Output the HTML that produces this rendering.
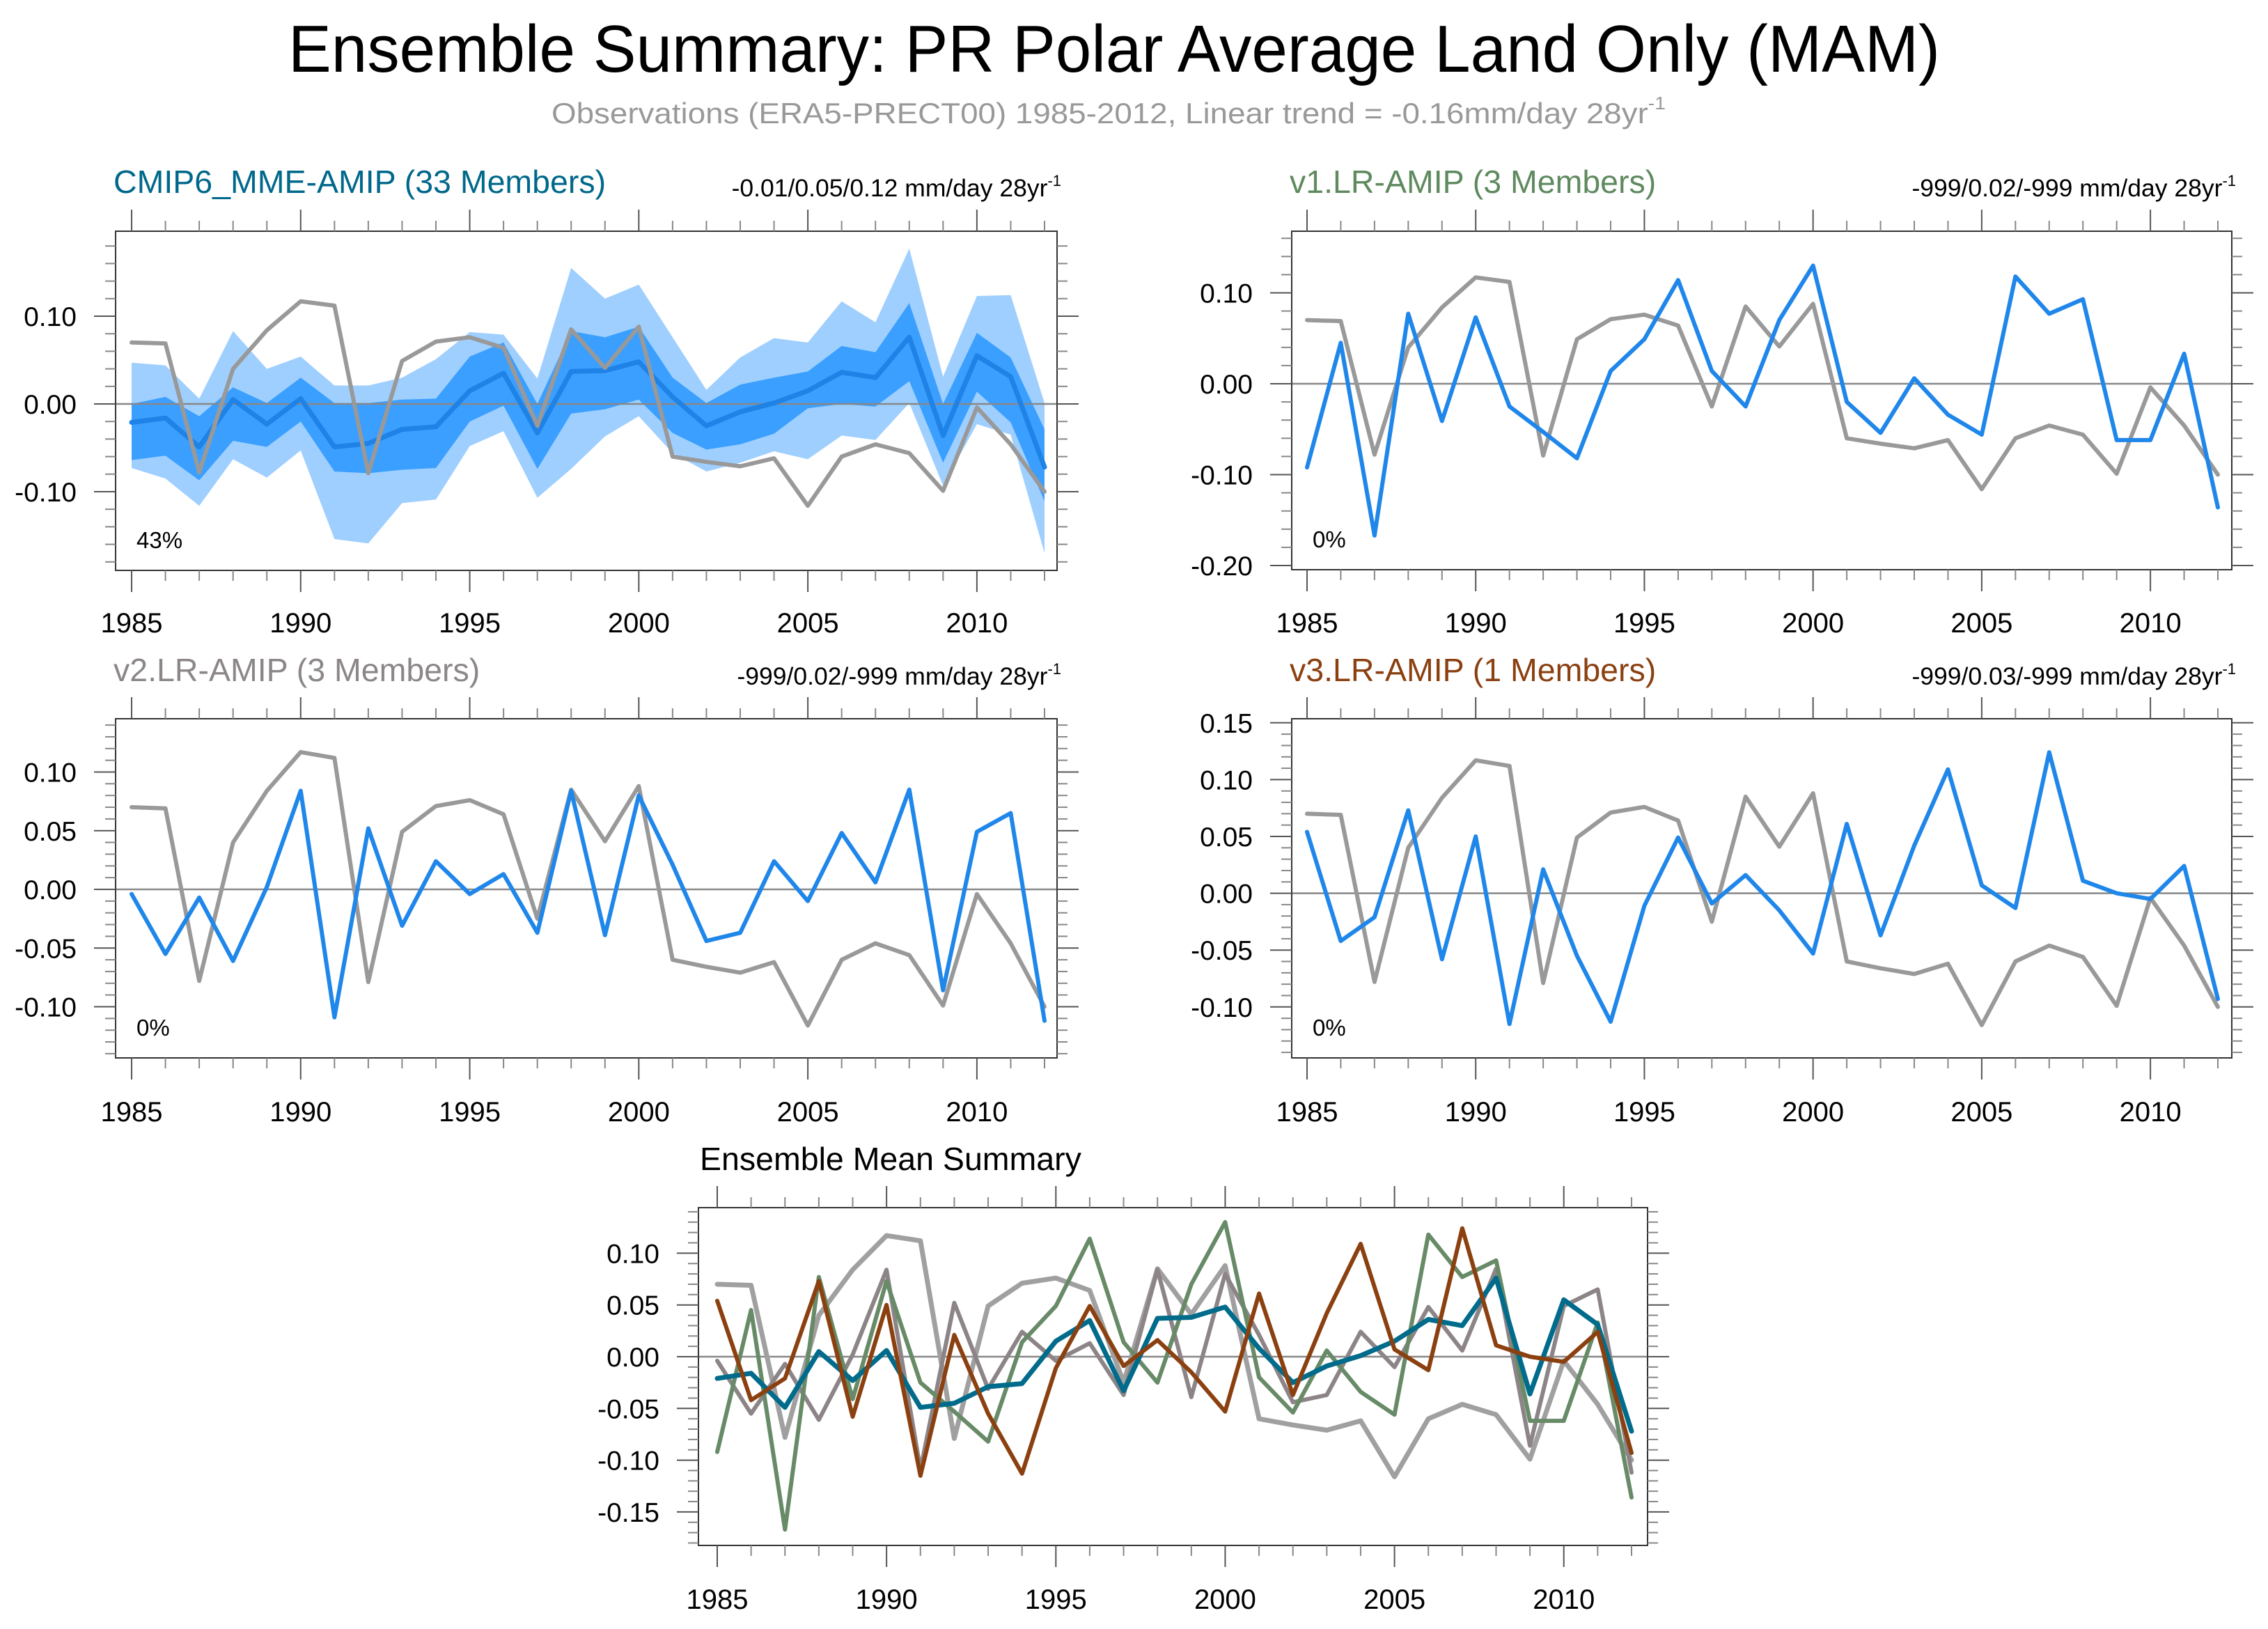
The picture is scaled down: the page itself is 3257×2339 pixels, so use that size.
<!DOCTYPE html>
<html><head><meta charset="utf-8"><title>Ensemble Summary</title>
<style>html,body{margin:0;padding:0;background:#fff}svg{display:block}text{font-family:"Liberation Sans",Arial,sans-serif}</style>
</head><body>
<svg id="chart" xmlns="http://www.w3.org/2000/svg" width="3257" height="2339" viewBox="0 0 3257 2339">
<rect width="3257" height="2339" fill="#fff"/>
<text x="1600" y="103" font-size="96" text-anchor="middle" textLength="2372" lengthAdjust="spacingAndGlyphs">Ensemble Summary: PR Polar Average Land Only (MAM)</text>
<text x="792" y="177" font-size="42" fill="#999" textLength="1600" lengthAdjust="spacingAndGlyphs">Observations (ERA5-PRECT00) 1985-2012, Linear trend = -0.16mm/day 28yr<tspan font-size="26" dy="-20">-1</tspan></text>
<g id="panels"></g>
</svg>
<script>
const years = [1985,1986,1987,1988,1989,1990,1991,1992,1993,1994,1995,1996,1997,1998,1999,2000,2001,2002,2003,2004,2005,2006,2007,2008,2009,2010,2011,2012];
const obs = [0.070,0.069,-0.078,0.040,0.084,0.117,0.112,-0.079,0.049,0.071,0.076,0.064,-0.025,0.085,0.041,0.088,-0.060,-0.066,-0.071,-0.062,-0.116,-0.060,-0.046,-0.056,-0.099,-0.004,-0.046,-0.100];
const mmeMean = [-0.021,-0.016,-0.049,0.005,-0.023,0.006,-0.049,-0.045,-0.029,-0.026,0.015,0.035,-0.033,0.037,0.038,0.048,0.008,-0.025,-0.009,0.001,0.015,0.036,0.030,0.076,-0.036,0.055,0.031,-0.072];
const mmeInnerHi = [0.000,0.008,-0.014,0.019,0.001,0.030,0.001,0.001,0.005,0.006,0.054,0.070,0.000,0.083,0.076,0.088,0.030,0.001,0.022,0.030,0.037,0.066,0.059,0.115,0.000,0.081,0.053,-0.029];
const mmeInnerLo = [-0.064,-0.059,-0.087,-0.042,-0.049,-0.020,-0.077,-0.079,-0.075,-0.073,-0.020,-0.002,-0.074,-0.011,-0.006,0.005,-0.033,-0.052,-0.046,-0.034,-0.005,0.000,-0.003,0.026,-0.067,0.014,-0.021,-0.111];
const mmeOuterHi = [0.047,0.044,0.006,0.083,0.040,0.054,0.021,0.021,0.030,0.051,0.082,0.079,0.029,0.155,0.120,0.136,0.076,0.016,0.053,0.075,0.070,0.117,0.093,0.177,0.031,0.123,0.124,0.001];
const mmeOuterLo = [-0.073,-0.085,-0.116,-0.063,-0.084,-0.053,-0.154,-0.159,-0.113,-0.109,-0.048,-0.031,-0.107,-0.074,-0.037,-0.014,-0.056,-0.077,-0.067,-0.054,-0.063,-0.036,-0.041,0.001,-0.093,-0.023,-0.035,-0.170];
const v1 = [-0.092,0.045,-0.167,0.077,-0.041,0.073,-0.025,-0.053,-0.082,0.014,0.049,0.114,0.014,-0.025,0.070,0.130,-0.020,-0.054,0.006,-0.034,-0.056,0.118,0.077,0.093,-0.062,-0.062,0.033,-0.136];
const v2 = [-0.004,-0.055,-0.007,-0.061,0.002,0.084,-0.109,0.052,-0.031,0.024,-0.004,0.013,-0.037,0.084,-0.039,0.080,0.021,-0.044,-0.037,0.024,-0.010,0.048,0.006,0.085,-0.086,0.049,0.065,-0.112];
const v3 = [0.054,-0.042,-0.021,0.073,-0.058,0.050,-0.115,0.021,-0.055,-0.113,-0.011,0.049,-0.009,0.016,-0.015,-0.053,0.061,-0.037,0.042,0.109,0.007,-0.013,0.124,0.011,0.000,-0.005,0.024,-0.093];
const yearTicks = [1985,1990,1995,2000,2005,2010];
const ticks1 = ["0.10","0.00","-0.10"];
const ticks2 = ["0.10","0.00","-0.10","-0.20"];
const ticks3 = ["0.10","0.05","0.00","-0.05","-0.10"];
const ticks4 = ["0.15","0.10","0.05","0.00","-0.05","-0.10"];
const ticks5 = ["0.10","0.05","0.00","-0.05","-0.10","-0.15"];

const NS = "http://www.w3.org/2000/svg";
const root = document.getElementById('panels');
function mk(tag, attrs, parent) {
  const e = document.createElementNS(NS, tag);
  for (const k in attrs) e.setAttribute(k, attrs[k]);
  (parent || root).appendChild(e);
  return e;
}
function panel(cfg) {
  const g = mk('g', {});
  
  
  const xs = yr => cfg.x0 + (yr - 1985) * (cfg.x1 - cfg.x0) / 27;
  const ys = v => cfg.zero - v * cfg.scale;
  const L = cfg.left, R = cfg.right, T = cfg.top, B = cfg.bottom;
  if (cfg.bands) {
    cfg.bands.forEach(bd => {
      let d = '';
      years.forEach((yr, i) => { d += (i ? 'L' : 'M') + xs(yr).toFixed(1) + ',' + ys(bd.hi[i]).toFixed(1); });
      for (let i = years.length - 1; i >= 0; i--) d += 'L' + xs(years[i]).toFixed(1) + ',' + ys(bd.lo[i]).toFixed(1);
      const p = mk('path', {d: d + 'Z', fill: bd.color}, g);
      
      
    });
  }
  const zl = mk('line', {x1: L, x2: R, y1: ys(0), y2: ys(0), stroke: '#888', 'stroke-width': 2.5}, g);
  
  
  cfg.series.forEach(s => {
    let d = '';
    years.forEach((yr, i) => { d += (i ? 'L' : 'M') + xs(yr).toFixed(1) + ',' + ys(s.v[i]).toFixed(1); });
    const p = mk('path', {d: d, fill: 'none', stroke: s.color, 'stroke-width': s.w, 'stroke-linejoin': 'round', 'stroke-linecap': 'round'}, g);
    
    
  });
  const bx = mk('rect', {x: L, y: T, width: R - L, height: B - T, fill: 'none', stroke: '#333', 'stroke-width': 2}, g);
  
  
  years.forEach(yr => {
    const major = yr % 5 === 0;
    const len = major ? 31 : 15;
    const c = major ? '#555' : '#888';
    mk('line', {x1: xs(yr), x2: xs(yr), y1: T, y2: T - len, stroke: c, 'stroke-width': 2}, g);
    mk('line', {x1: xs(yr), x2: xs(yr), y1: B, y2: B + len, stroke: c, 'stroke-width': 2}, g);
  });
  yearTicks.forEach(yr => {
    const t = mk('text', {x: xs(yr), y: cfg.yearY, 'font-size': 40, 'text-anchor': 'middle'}, g);
    t.textContent = yr;
    
    
  });
  const vTop = (cfg.zero - T) / cfg.scale, vBot = (cfg.zero - B) / cfg.scale;
  const n0 = Math.ceil(vBot / cfg.minor - 1e-6), n1 = Math.floor(vTop / cfg.minor + 1e-6);
  for (let n = n0; n <= n1; n++) {
    const v = n * cfg.minor;
    const ratio = v / cfg.major;
    const major = Math.abs(ratio - Math.round(ratio)) < 1e-6;
    const len = major ? 31 : 15;
    const c = major ? '#555' : '#888';
    mk('line', {x1: L, x2: L - len, y1: ys(v), y2: ys(v), stroke: c, 'stroke-width': 2}, g);
    mk('line', {x1: R, x2: R + len, y1: ys(v), y2: ys(v), stroke: c, 'stroke-width': 2}, g);
  }
  cfg.ticks.forEach(lbl => {
    const t = mk('text', {x: L - 56, y: ys(parseFloat(lbl)) + 14, 'font-size': 39, 'text-anchor': 'end'}, g);
    t.textContent = lbl;
    
    
  });
  const tt = mk('text', {x: cfg.titleX, y: cfg.titleY, 'font-size': 46.5, fill: cfg.titleColor}, g);
  tt.textContent = cfg.title;
  
  
  if (cfg.trend) {
    const tr = mk('text', {x: R + 6, y: cfg.titleY + 5, 'font-size': 35.5, 'text-anchor': 'end'}, g);
    
    
    tr.appendChild(document.createTextNode(cfg.trend));
    const sup = mk('tspan', {'font-size': 22, dy: -15}, tr);
    sup.textContent = '-1';
  }
  if (cfg.pct) {
    const pc = mk('text', {x: L + 30, y: B - 32, 'font-size': 33}, g);
    pc.textContent = cfg.pct;
    
    
  }
}
const OBS = '#999999', BLUE = '#1f86ea';
panel({name:'panel-cmip6-mme', left:166, right:1518, top:332, bottom:819, x0:189, x1:1500, zero:580, scale:1260,
  minor:0.02, major:0.1, ticks:ticks1, yearY:908, title:'CMIP6_MME-AMIP (33 Members)', titleColor:'#00688b', titleX:163, titleY:277,
  trend:'-0.01/0.05/0.12 mm/day 28yr', pct:'43%',
  bands:[{name:'spread-outer-band', hi:mmeOuterHi, lo:mmeOuterLo, color:'#9fcfff'},{name:'spread-inner-band', hi:mmeInnerHi, lo:mmeInnerLo, color:'#3a9fff'}],
  series:[{name:'mme-mean-line', v:mmeMean, color:'#1e82e6', w:7},{name:'obs-line', v:obs, color:OBS, w:6}]});
panel({name:'panel-v1', left:1855, right:3205, top:332, bottom:818, x0:1877, x1:3185, zero:551, scale:1305,
  minor:0.02, major:0.1, ticks:ticks2, yearY:908, title:'v1.LR-AMIP (3 Members)', titleColor:'#5f8a5f', titleX:1852, titleY:277,
  trend:'-999/0.02/-999 mm/day 28yr', pct:'0%',
  series:[{name:'obs-line', v:obs, color:OBS, w:6},{name:'v1-line', v:v1, color:BLUE, w:6}]});
panel({name:'panel-v2', left:166, right:1518, top:1032, bottom:1519, x0:189, x1:1500, zero:1277, scale:1685,
  minor:0.01, major:0.05, ticks:ticks3, yearY:1610, title:'v2.LR-AMIP (3 Members)', titleColor:'#8c8687', titleX:163, titleY:978,
  trend:'-999/0.02/-999 mm/day 28yr', pct:'0%',
  series:[{name:'obs-line', v:obs, color:OBS, w:6},{name:'v2-line', v:v2, color:BLUE, w:6}]});
panel({name:'panel-v3', left:1855, right:3205, top:1032, bottom:1519, x0:1877, x1:3185, zero:1282.6, scale:1632,
  minor:0.01, major:0.05, ticks:ticks4, yearY:1610, title:'v3.LR-AMIP (1 Members)', titleColor:'#8b4010', titleX:1852, titleY:978,
  trend:'-999/0.03/-999 mm/day 28yr', pct:'0%',
  series:[{name:'obs-line', v:obs, color:OBS, w:6},{name:'v3-line', v:v3, color:BLUE, w:6}]});
panel({name:'panel-ensemble-mean-summary', left:1003, right:2366, top:1734, bottom:2219, x0:1030, x1:2343, zero:1948, scale:1486,
  minor:0.01, major:0.05, ticks:ticks5, yearY:2310, title:'Ensemble Mean Summary', titleColor:'#000', titleX:1005, titleY:1680,
  series:[{name:'obs-line', v:obs, color:'#a0a0a0', w:7},{name:'v2-mean-line', v:v2, color:'#8c8487', w:6},{name:'v1-mean-line', v:v1, color:'#678a67', w:6},{name:'mme-mean-line', v:mmeMean, color:'#006b8b', w:7},{name:'v3-mean-line', v:v3, color:'#8b4010', w:6}]});
</script>
</body></html>
